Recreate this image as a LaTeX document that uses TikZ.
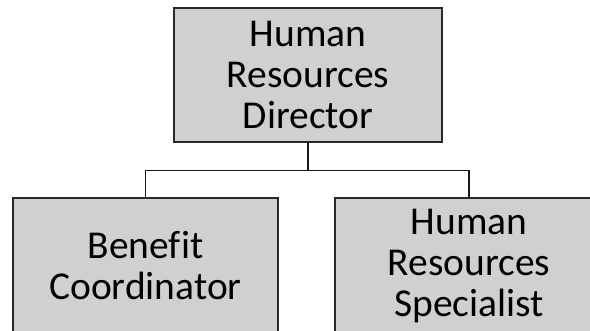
\documentclass[tikz,border=0pt]{standalone}
\usepackage{fontspec}
\setmainfont{Carlito}[Ligatures=NoCommon]
\usetikzlibrary{calc}
\definecolor{boxfill}{RGB}{208,208,208}
\definecolor{edge}{RGB}{40,40,40}
\begin{document}
\begin{tikzpicture}[x=1pt,y=1pt,
  orgbox/.style={draw=edge, line width=1.4pt, fill=boxfill, inner sep=0pt,
    align=center, font=\fontsize{39.5}{41}\selectfont, text=black},
  link/.style={draw=black!90, line width=1.6pt}]
\useasboundingbox (0,0) rectangle (590,331);
\clip (0,0) rectangle (590,331);
\fill[white] (0,0) rectangle (590,331);
\node[orgbox, minimum width=268pt, minimum height=134pt] (top) at (308,256)
  {Human\\Resources\\Director};
\node[orgbox, minimum width=265pt, minimum height=136pt] (left) at (145.5,65)
  {Benefit\\Coordinator};
\node[orgbox, minimum width=268pt, minimum height=136pt] (right) at (469,65)
  {Human\\Resources\\Specialist};
\coordinate (bus) at ($(top.south)+(0,-28)$);
\draw[link] (top.south) -- (bus) -| (left.north);
\draw[link] (bus) -| (right.north);
\end{tikzpicture}
\end{document}
